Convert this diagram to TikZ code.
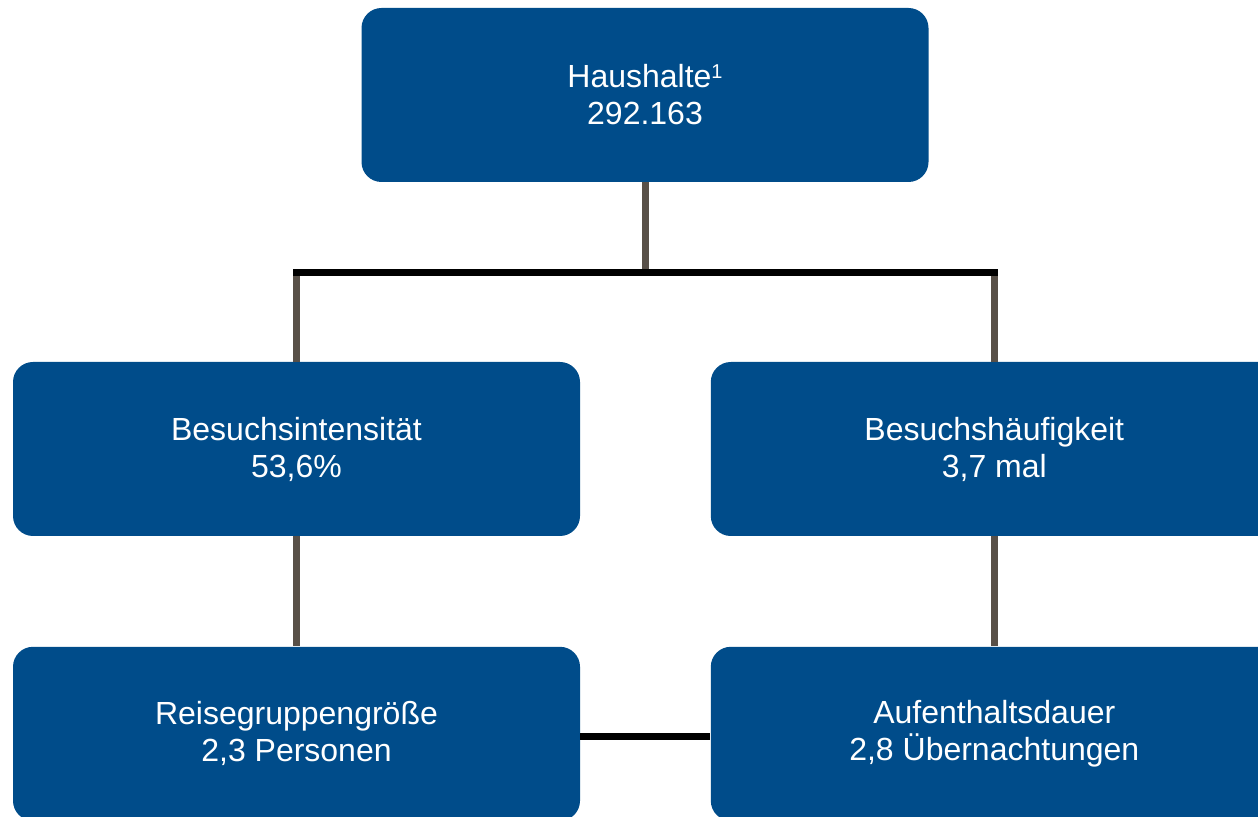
\documentclass[tikz,border=0pt]{standalone}
\usepackage{fontspec}
\setmainfont{Liberation Sans}
\usepackage{tikz}
\usetikzlibrary{positioning,calc}
\definecolor{boxblue}{RGB}{0,76,138}
\definecolor{linkgray}{RGB}{88,80,72}

\begin{document}
\begin{tikzpicture}[%
  x=0.5pt, y=-0.5pt,
  box/.style={fill=boxblue, rounded corners=10pt, text=white, align=center,
    minimum width=283.5pt, minimum height=87pt, inner sep=0pt,
    font=\fontsize{16}{18.5}\selectfont},
  link/.style={draw=linkgray, line width=3.5pt},
  bar/.style={draw=black, line width=3.5pt}
  ]
  \useasboundingbox (0,0) rectangle (1258,817);
  \clip (0,0) rectangle (1258,817);
  \node[box] (hh) at (645,95) {Haushalte{\fontsize{10}{10}\selectfont\raisebox{4.5pt}{1}}\\292.163};
  \node[box] (intens) at (296.5,449) {Besuchsintensität\\53,6\%};
  \node[box, right=65pt of intens] (freq) {Besuchshäufigkeit\\3,7 mal};
  \node[box, below=55pt of intens] (group) {Reisegruppengröße\\2,3 Personen};
  \node[box, below=55pt of freq] (stay) {Aufenthaltsdauer\\2,8 Übernachtungen};
  \coordinate (fork) at ($(hh.south)+(0,90.5)$);
  % upper fork
  \draw[link] (hh.south) -- (hh.south |- fork);
  \draw[link] (intens.north) -- (intens.north |- fork);
  \draw[link] (freq.north) -- (freq.north |- fork);
  \draw[bar, line cap=rect] (intens.north |- fork) -- (freq.north |- fork);
  % lower links
  \draw[link] (intens.south) -- (group.north);
  \draw[link] (freq.south) -- (stay.north);
  \draw[bar] ([yshift=-1.25pt]group.east) -- ([yshift=-1.25pt]stay.west);
\end{tikzpicture}
\end{document}
